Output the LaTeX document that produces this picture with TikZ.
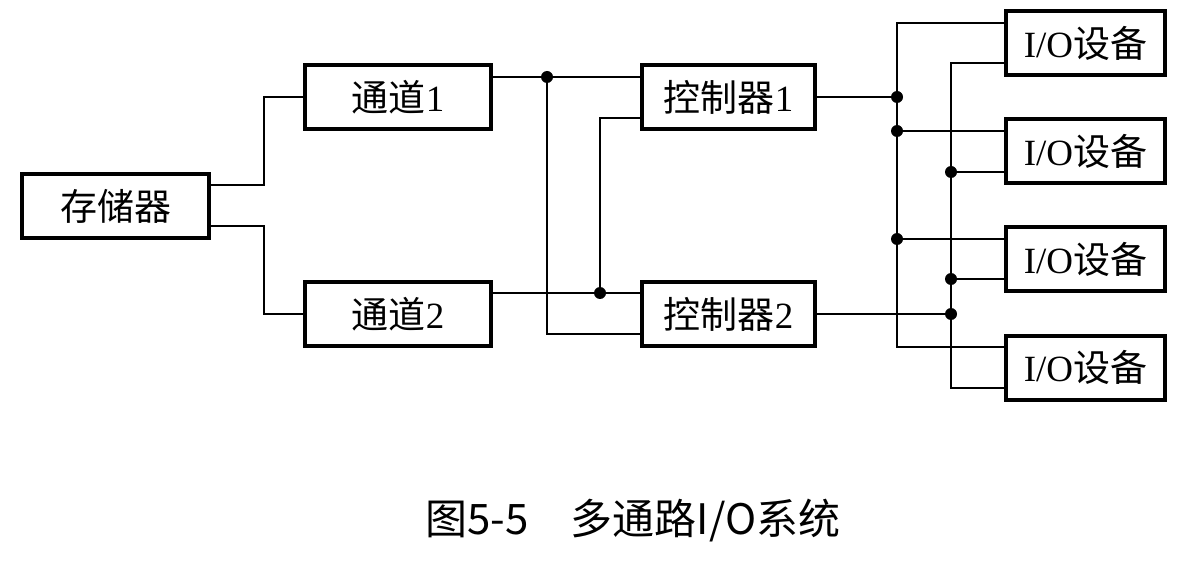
\documentclass[tikz,border=0pt]{standalone}
\usepackage{fontspec}
\setmainfont{Liberation Serif}
\newfontfamily\cjk{Noto Sans CJK SC}
\begin{document}
\begin{tikzpicture}[x=1pt,y=-1pt,
  box/.style={draw,line width=4pt,inner sep=0pt,minimum height=64pt,font=\fontsize{37}{40}\selectfont},
  wire/.style={line width=2pt},
  dot/.style={circle,fill,inner sep=0pt,minimum size=12pt}]
\useasboundingbox (0,0) rectangle (1203,564);
% boxes
\node[box,minimum width=187pt] (mem) at (115.5,206) {{\cjk 存储器}};
\node[box,minimum width=186pt] (ch1) at (398,97) {{\cjk 通道}1};
\node[box,minimum width=186pt] (ch2) at (398,314) {{\cjk 通道}2};
\node[box,minimum width=173pt] (ct1) at (728.5,97) {{\cjk 控制器}1};
\node[box,minimum width=173pt] (ct2) at (728.5,314) {{\cjk 控制器}2};
\node[box,minimum width=159pt] (io1) at (1085.5,43) {I/O{\cjk 设备}};
\node[box,minimum width=159pt] (io2) at (1085.5,151) {I/O{\cjk 设备}};
\node[box,minimum width=159pt] (io3) at (1085.5,259.5) {I/O{\cjk 设备}};
\node[box,minimum width=159pt] (io4) at (1085.5,367.5) {I/O{\cjk 设备}};
% junction coordinates
\coordinate (a1) at (264,185);
\coordinate (a2) at (264,226);
\coordinate (d1) at (547,77);
\coordinate (b1) at (547,334);
\coordinate (d2) at (600,293);
\coordinate (b2) at (600,118);
\coordinate (t1) at (897,23);
\coordinate (t2) at (897,347);
\coordinate (u1) at (951,63);
\coordinate (u2) at (951,388);
\coordinate (e1) at (897,97);
\coordinate (f2) at (897,131);
\coordinate (f3) at (897,239);
\coordinate (e2) at (951,314);
\coordinate (g2) at (951,172);
\coordinate (g3) at (951,279);
% memory to channels
\draw[wire] (mem.east |- a1) -- (a1) |- (ch1.west);
\draw[wire] (mem.east |- a2) -- (a2) |- (ch2.west);
% channels to controllers
\draw[wire] (ch1.east |- d1) -- (ct1.west |- d1);
\draw[wire] (d1) -- (b1) -- (ct2.west |- b1);
\draw[wire] (ch2.east |- d2) -- (ct2.west |- d2);
\draw[wire] (ct1.west |- b2) -- (b2) -- (d2);
% controllers to buses
\draw[wire] (ct1.east) -- (e1);
\draw[wire] (ct2.east) -- (e2);
% buses
\draw[wire] (io1.west |- t1) -- (t1) -- (t2) -- (io4.west |- t2);
\draw[wire] (io1.west |- u1) -- (u1) -- (u2) -- (io4.west |- u2);
\draw[wire] (f2) -- (io2.west |- f2);
\draw[wire] (g2) -- (io2.west |- g2);
\draw[wire] (f3) -- (io3.west |- f3);
\draw[wire] (g3) -- (io3.west |- g3);
% dots
\foreach \p in {d1,d2,e1,f2,f3,e2,g2,g3} \node[dot] at (\p) {};
% caption
\node[font=\cjk\fontsize{42}{48}\selectfont] (cap) at (633,521) {图5-5　多通路I/O系统};
\end{tikzpicture}
\end{document}
